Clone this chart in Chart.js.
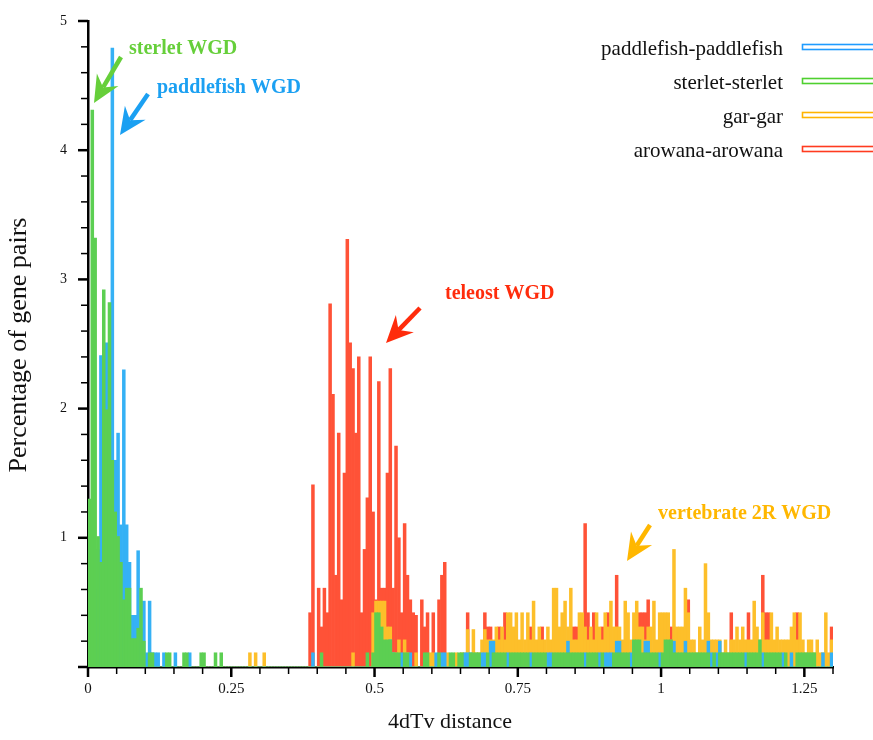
<!DOCTYPE html>
<html>
<head>
<meta charset="utf-8">
<script src="https://cdn.jsdelivr.net/npm/chart.js@4.4.1/dist/chart.umd.min.js"></script>
<style>
  html, body { margin: 0; padding: 0; background: #fff; }
  #wrap { width: 873px; height: 740px; }
</style>
</head>
<body>
<div id="wrap"><canvas id="chart" width="873" height="740"></canvas></div>
<script>
// Histogram bins: 0 .. 1.3 in steps of 0.005 (260 bins), values in % of gene pairs
const binWidth = 0.005;

const paddlefish = [
    0.5, 0.9, 0.6, 0.91, 2.41, 1.99, 2.51, 1.71, 4.79, 1.6, 1.81, 1.1, 2.3, 1.1, 0.81, 0.4, 0.4, 0.9, 0.3, 0.51,
    0.11, 0.51, 0.11, 0.11, 0.11, 0, 0.11, 0, 0, 0, 0.11, 0, 0, 0, 0, 0.11, 0, 0, 0, 0,
    0, 0, 0, 0, 0, 0, 0, 0, 0, 0, 0, 0, 0, 0, 0, 0, 0, 0, 0, 0,
    0, 0, 0, 0, 0, 0, 0, 0, 0, 0, 0, 0, 0, 0, 0, 0, 0, 0, 0.11, 0,
    0, 0, 0, 0, 0, 0, 0, 0, 0, 0, 0, 0, 0, 0, 0, 0, 0, 0, 0, 0,
    0, 0, 0, 0.2, 0.2, 0.21, 0.11, 0, 0, 0.11, 0, 0, 0.11, 0, 0, 0, 0, 0, 0, 0,
    0, 0.11, 0, 0.11, 0.11, 0, 0, 0, 0, 0, 0, 0.11, 0.11, 0.11, 0, 0, 0, 0.11, 0.11, 0,
    0.2, 0.2, 0, 0, 0, 0, 0.11, 0, 0, 0, 0, 0, 0, 0, 0.11, 0, 0, 0, 0, 0,
    0.11, 0.11, 0, 0, 0, 0, 0, 0.2, 0, 0, 0, 0, 0, 0.11, 0, 0, 0, 0, 0.11, 0,
    0.11, 0.11, 0.11, 0, 0.2, 0.2, 0, 0, 0, 0.11, 0.2, 0, 0, 0, 0.2, 0.2, 0, 0, 0, 0.11,
    0, 0, 0, 0, 0.2, 0, 0, 0, 0.2, 0, 0, 0, 0, 0, 0, 0, 0.2, 0.11, 0, 0.11,
    0.2, 0, 0, 0, 0, 0, 0, 0, 0, 0.11, 0, 0, 0, 0, 0, 0.11, 0, 0, 0, 0,
    0, 0, 0.11, 0, 0, 0.11, 0, 0, 0, 0, 0, 0, 0, 0, 0, 0, 0.11, 0, 0, 0.11
];

const sterlet = [
    1.3, 4.31, 3.32, 1.01, 0.81, 2.92, 1.99, 2.82, 1.6, 1.2, 1.01, 0.81, 0.52, 0.61, 0.61, 0.22, 0.22, 0.3, 0.61, 0.2,
    0, 0.11, 0.11, 0, 0, 0, 0, 0.11, 0.11, 0, 0, 0, 0, 0.11, 0.11, 0, 0, 0, 0, 0.11,
    0.11, 0, 0, 0, 0.11, 0, 0.11, 0, 0, 0, 0, 0, 0, 0, 0, 0, 0, 0, 0, 0,
    0, 0, 0, 0, 0, 0, 0, 0, 0, 0, 0, 0, 0, 0, 0, 0, 0, 0, 0, 0,
    0, 0.11, 0, 0, 0, 0, 0, 0, 0, 0, 0, 0, 0, 0, 0, 0, 0, 0.11, 0, 0.11,
    0.42, 0.42, 0.31, 0.21, 0.21, 0.21, 0.11, 0.11, 0.11, 0, 0.11, 0.11, 0, 0, 0, 0, 0, 0.11, 0.11, 0,
    0, 0, 0.11, 0, 0, 0, 0.11, 0.11, 0, 0.11, 0.11, 0, 0, 0.11, 0.11, 0.11, 0.11, 0, 0, 0.11,
    0, 0.11, 0.11, 0.11, 0.11, 0.11, 0, 0.11, 0.11, 0.11, 0.11, 0.11, 0.11, 0.11, 0, 0.11, 0.11, 0.11, 0.11, 0.11,
    0, 0, 0.11, 0.11, 0.11, 0.11, 0.11, 0.11, 0.11, 0.11, 0.11, 0.11, 0.11, 0, 0.11, 0.11, 0.11, 0.11, 0, 0.11,
    0, 0, 0, 0.11, 0.11, 0.11, 0.11, 0.11, 0.11, 0, 0.21, 0.21, 0.21, 0.11, 0.11, 0.11, 0.11, 0.11, 0.11, 0,
    0.11, 0.21, 0.21, 0.21, 0.11, 0.11, 0.11, 0.11, 0.11, 0.11, 0.11, 0.11, 0.11, 0.11, 0.11, 0.11, 0.11, 0, 0.11, 0,
    0.11, 0.11, 0.11, 0.11, 0.11, 0.11, 0.11, 0.11, 0.11, 0, 0.11, 0.11, 0.11, 0.11, 0.21, 0, 0.11, 0.11, 0.11, 0.11,
    0.11, 0.11, 0, 0.11, 0, 0, 0, 0.11, 0.11, 0.11, 0.11, 0.11, 0.11, 0.11, 0, 0, 0, 0, 0, 0
];

const gar = [
    0, 0, 0, 0, 0, 0, 0, 0, 0, 0, 0, 0, 0, 0, 0, 0, 0, 0, 0, 0,
    0, 0, 0, 0, 0, 0, 0, 0, 0, 0, 0, 0, 0, 0, 0, 0, 0, 0, 0, 0,
    0, 0, 0, 0, 0, 0, 0, 0, 0, 0, 0, 0, 0, 0, 0, 0, 0.11, 0, 0.11, 0,
    0, 0.11, 0, 0, 0, 0, 0, 0, 0, 0, 0, 0, 0, 0, 0, 0, 0, 0, 0, 0,
    0, 0, 0, 0, 0, 0, 0, 0, 0, 0, 0, 0, 0.11, 0, 0, 0, 0, 0, 0, 0.42,
    0.51, 0.51, 0.51, 0.51, 0.31, 0.31, 0.11, 0.11, 0.21, 0, 0.21, 0.11, 0, 0, 0.11, 0, 0, 0, 0, 0.11,
    0.11, 0, 0, 0, 0, 0.11, 0, 0, 0.11, 0, 0.11, 0.11, 0.29, 0, 0.29, 0.11, 0.11, 0.21, 0.29, 0.21,
    0.21, 0.21, 0.31, 0.21, 0.31, 0.21, 0.42, 0.42, 0.31, 0.42, 0.21, 0.42, 0.21, 0.42, 0.21, 0.51, 0.21, 0.31, 0.21, 0.21,
    0.31, 0.21, 0.61, 0.61, 0.31, 0.42, 0.51, 0.31, 0.61, 0.21, 0.21, 0.42, 0.42, 0.31, 0.21, 0.31, 0.21, 0.42, 0.31, 0.21,
    0.42, 0.31, 0.51, 0.31, 0.31, 0.31, 0.21, 0.51, 0.42, 0.21, 0.42, 0.51, 0.31, 0.31, 0.21, 0.31, 0.31, 0.51, 0.21, 0.42,
    0.42, 0.42, 0.42, 0.21, 0.91, 0.31, 0.31, 0.31, 0.61, 0.42, 0.21, 0.21, 0.11, 0.31, 0.21, 0.8, 0.42, 0.21, 0.21, 0.21,
    0.21, 0.11, 0.21, 0.11, 0.21, 0.21, 0.31, 0.21, 0.31, 0.21, 0.21, 0.21, 0.51, 0.31, 0.21, 0.42, 0.21, 0.21, 0.42, 0.21,
    0.31, 0.21, 0.21, 0.21, 0.21, 0.31, 0.42, 0.21, 0.42, 0.21, 0.11, 0.21, 0.21, 0.11, 0.21, 0.11, 0.11, 0.42, 0.11, 0.21
];

const arowana = [
    0, 0, 0, 0, 0, 0, 0, 0, 0, 0, 0, 0, 0, 0, 0, 0, 0, 0, 0, 0,
    0, 0, 0, 0, 0, 0, 0, 0, 0, 0, 0, 0, 0, 0, 0, 0, 0, 0, 0, 0,
    0, 0, 0, 0, 0, 0, 0, 0, 0, 0, 0, 0, 0, 0, 0, 0, 0, 0, 0, 0,
    0, 0, 0, 0, 0, 0, 0, 0, 0, 0, 0, 0, 0, 0, 0, 0, 0, 0.42, 1.41, 0,
    0.61, 0.31, 0.61, 0.42, 2.81, 2.11, 0.71, 1.81, 0.52, 1.5, 3.31, 2.51, 2.31, 1.81, 2.4, 0.42, 0.91, 1.31, 2.4, 1.2,
    0.52, 2.21, 0.61, 0.61, 1.5, 2.31, 0.61, 1.71, 1.0, 0.42, 1.11, 0.71, 0.52, 0.42, 0.4, 0, 0.52, 0.31, 0.42, 0,
    0.42, 0, 0.52, 0.71, 0.81, 0, 0, 0, 0, 0, 0, 0, 0.42, 0, 0, 0, 0, 0, 0.42, 0.31,
    0.31, 0, 0, 0.31, 0, 0.42, 0, 0, 0, 0, 0, 0, 0, 0, 0.31, 0, 0, 0, 0.31, 0,
    0, 0, 0, 0, 0, 0, 0, 0, 0, 0.31, 0.31, 0, 0, 1.11, 0.42, 0, 0.42, 0, 0, 0.31,
    0, 0.42, 0, 0, 0.71, 0, 0, 0, 0, 0, 0, 0, 0.42, 0.42, 0.42, 0.52, 0, 0, 0, 0,
    0, 0, 0, 0.31, 0, 0, 0, 0, 0, 0.52, 0, 0, 0, 0, 0, 0, 0, 0, 0, 0,
    0, 0, 0, 0, 0.42, 0, 0, 0, 0, 0, 0.42, 0, 0, 0, 0, 0.71, 0.42, 0.42, 0, 0,
    0, 0, 0, 0, 0, 0, 0, 0.42, 0, 0, 0, 0, 0, 0, 0, 0, 0, 0, 0, 0.31
];

const seriesLabels = ['paddlefish-paddlefish', 'sterlet-sterlet', 'gar-gar', 'arowana-arowana'];
const xTickValues = [0, 0.25, 0.5, 0.75, 1, 1.25];
const yTickValues = [1, 2, 3, 4, 5];

// Bin centres on the x axis
const binCentres = paddlefish.map((_, i) => +((i + 0.5) * binWidth).toFixed(4));
const toPoints = (values) => binCentres.map((x, i) => ({ x: x, y: values[i] }));

const fillColors = ['#35b1f5', '#5ccf52', '#fdbf2a', '#ff5237'];
const legendColors = ['#1f9cff', '#4fd02f', '#ffb400', '#ff3b1f'];
const serif = '"Liberation Serif", "Times New Roman", serif';

// --- annotations: text + arrow ---
const notes = [
    { text: 'sterlet WGD', color: '#66cf3a', x: 129, y: 49, arrow: [121, 57, 94, 103] },
    { text: 'paddlefish WGD', color: '#1ba0f2', x: 157, y: 88, arrow: [148, 94, 120, 135] },
    { text: 'teleost WGD', color: '#ff2c0c', x: 445, y: 294, arrow: [420, 308, 386, 343] },
    { text: 'vertebrate 2R WGD', color: '#ffb700', x: 658, y: 514, arrow: [650, 525, 627, 561] }
];

function drawArrow(ctx, x1, y1, x2, y2, color) {
    const dx = x2 - x1, dy = y2 - y1;
    const len = Math.hypot(dx, dy);
    const ux = dx / len, uy = dy / len;
    const px = -uy, py = ux;
    const headLen = 27, headHalf = 12.5, notch = 18;
    ctx.strokeStyle = color;
    ctx.fillStyle = color;
    ctx.lineWidth = 4.5;
    ctx.beginPath();
    ctx.moveTo(x1, y1);
    ctx.lineTo(x2 - ux * notch, y2 - uy * notch);
    ctx.stroke();
    const bx = x2 - ux * headLen, by = y2 - uy * headLen;
    ctx.beginPath();
    ctx.moveTo(x2, y2);
    ctx.lineTo(bx + px * headHalf, by + py * headHalf);
    ctx.lineTo(x2 - ux * notch, y2 - uy * notch);
    ctx.lineTo(bx - px * headHalf, by - py * headHalf);
    ctx.closePath();
    ctx.fill();
}

const overlayPlugin = {
    id: 'overlay',
    afterDraw(chart) {
        const { ctx, chartArea } = chart;
        const xs = chart.scales.x, ys = chart.scales.y;
        ctx.save();

        // tick marks (major + minor)
        ctx.strokeStyle = '#000';
        for (let k = 0; k <= 26; k++) {
            const px = xs.getPixelForValue(k * 0.05);
            const major = k % 5 === 0;
            ctx.lineWidth = major ? 2.5 : 1.5;
            ctx.beginPath();
            ctx.moveTo(px, chartArea.bottom);
            ctx.lineTo(px, chartArea.bottom + (major ? 10 : 7));
            ctx.stroke();
        }
        for (let k = 0; k <= 25; k++) {
            const py = ys.getPixelForValue(k * 0.2);
            const major = k % 5 === 0;
            ctx.lineWidth = major ? 2.5 : 1.5;
            ctx.beginPath();
            ctx.moveTo(chartArea.left, py);
            ctx.lineTo(chartArea.left - (major ? 10 : 7), py);
            ctx.stroke();
        }

        // axis titles
        ctx.fillStyle = '#111';
        ctx.textAlign = 'center';
        ctx.textBaseline = 'middle';
        ctx.font = '22px ' + serif;
        ctx.fillText('4dTv distance', 450, 722);
        ctx.save();
        ctx.translate(19, 345);
        ctx.rotate(-Math.PI / 2);
        ctx.font = '26px ' + serif;
        ctx.fillText('Percentage of gene pairs', 0, 0);
        ctx.restore();

        // legend: label then an outlined line sample
        ctx.font = '21px ' + serif;
        ctx.textAlign = 'right';
        seriesLabels.forEach((label, i) => {
            const cy = 47 + i * 34;
            ctx.fillStyle = '#111';
            ctx.fillText(label, 783, cy + 2);
            ctx.strokeStyle = legendColors[i];
            ctx.lineWidth = 1.6;
            ctx.strokeRect(802.5, cy - 2.5, 90, 5);
        });

        // annotations
        ctx.font = 'bold 20px ' + serif;
        ctx.textAlign = 'left';
        notes.forEach(n => {
            ctx.fillStyle = n.color;
            ctx.fillText(n.text, n.x, n.y);
            drawArrow(ctx, n.arrow[0], n.arrow[1], n.arrow[2], n.arrow[3], n.color);
        });

        ctx.restore();
    }
};

const barDefaults = {
    grouped: false,
    barPercentage: 1,
    categoryPercentage: 1,
    borderWidth: 0
};

new Chart(document.getElementById('chart'), {
    type: 'bar',
    data: {
        datasets: [
            { label: seriesLabels[0], data: toPoints(paddlefish), backgroundColor: fillColors[0], order: 1, ...barDefaults },
            { label: seriesLabels[1], data: toPoints(sterlet), backgroundColor: fillColors[1], order: 0, ...barDefaults },
            { label: seriesLabels[2], data: toPoints(gar), backgroundColor: fillColors[2], order: 2, ...barDefaults },
            { label: seriesLabels[3], data: toPoints(arowana), backgroundColor: fillColors[3], order: 3, ...barDefaults }
        ]
    },
    options: {
        responsive: false,
        animation: false,
        devicePixelRatio: 1,
        events: [],
        layout: { padding: { left: 0, right: 40, top: 21, bottom: 0 } },
        plugins: {
            legend: { display: false },
            tooltip: { enabled: false }
        },
        scales: {
            x: {
                type: 'linear',
                min: 0,
                max: 1.3,
                offset: false,
                afterFit: (s) => { s.height = 73; s.paddingLeft = 0; s.paddingRight = 0; },
                afterBuildTicks: (s) => { s.ticks = xTickValues.map(v => ({ value: v })); },
                grid: { display: false, drawTicks: false },
                border: { display: true, color: '#000', width: 2.5 },
                ticks: {
                    autoSkip: false,
                    maxRotation: 0,
                    padding: 13,
                    color: '#111',
                    font: { family: serif, size: 15 },
                    callback: (v) => String(v)
                }
            },
            y: {
                min: 0,
                max: 5,
                afterFit: (s) => { s.width = 88; s.paddingTop = 0; s.paddingBottom = 0; },
                afterBuildTicks: (s) => { s.ticks = yTickValues.map(v => ({ value: v })); },
                grid: { display: false, drawTicks: false },
                border: { display: true, color: '#000', width: 2.5 },
                ticks: {
                    padding: 21,
                    color: '#111',
                    font: { family: serif, size: 14 },
                    callback: (v) => String(v)
                }
            }
        }
    },
    plugins: [overlayPlugin]
});
</script>
</body>
</html>
